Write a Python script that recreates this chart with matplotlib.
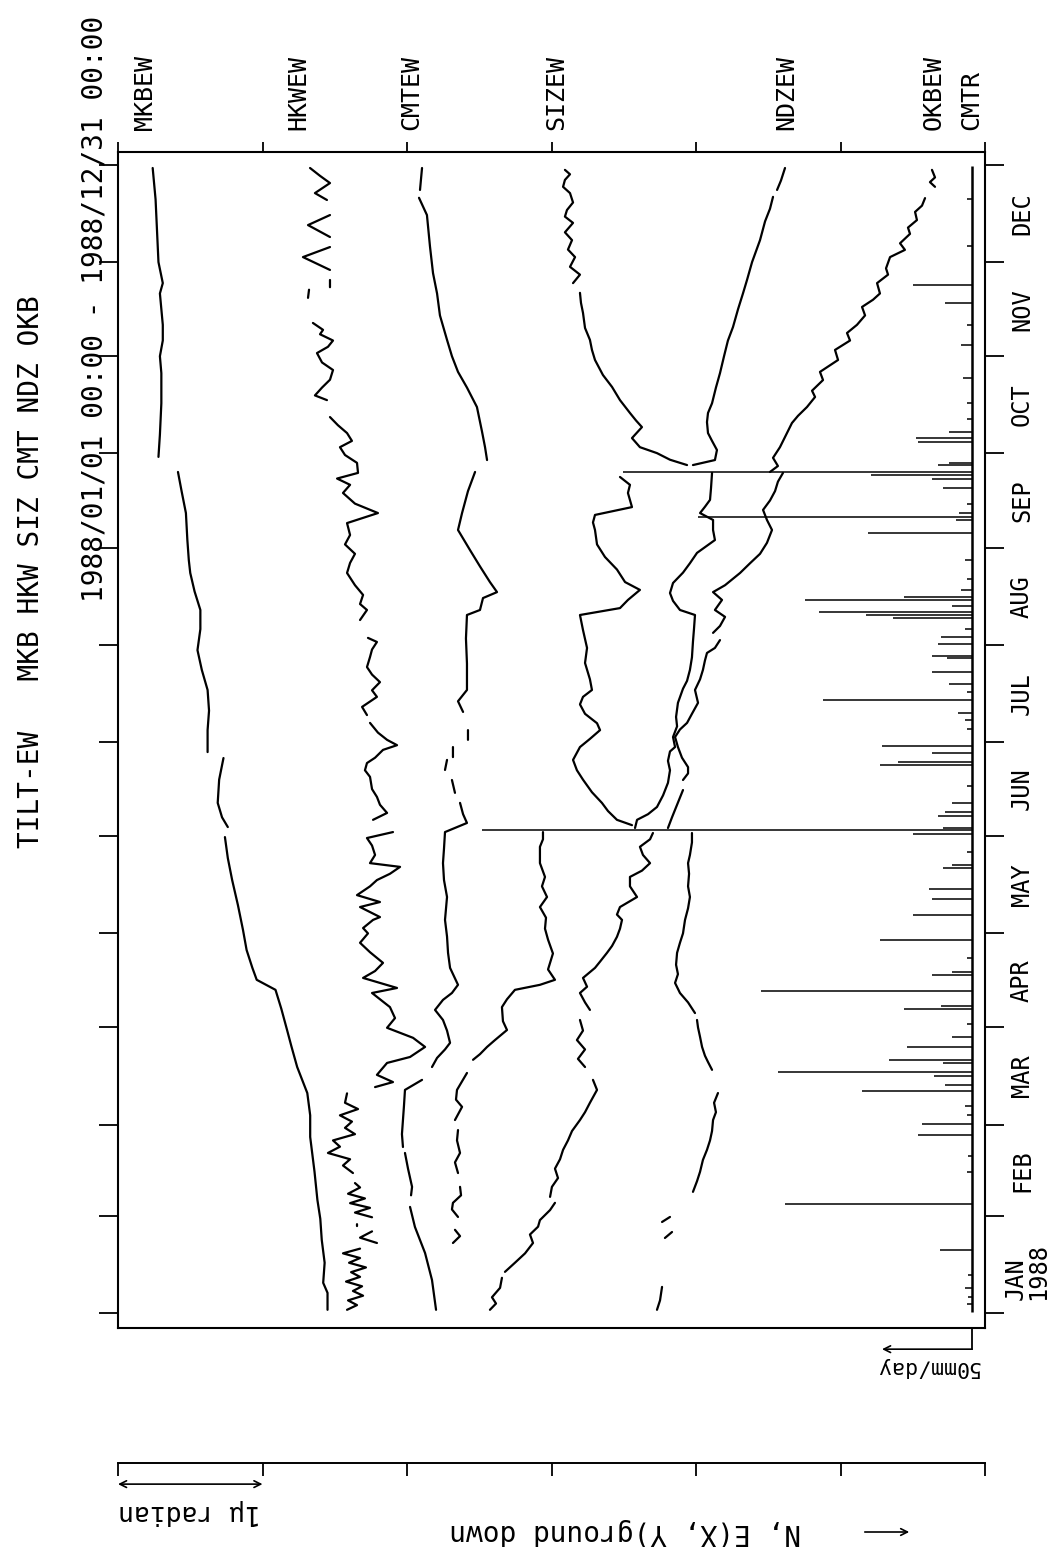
import numpy as np
import matplotlib
matplotlib.use("Agg")
import matplotlib.pyplot as plt
from matplotlib.transforms import blended_transform_factory
from matplotlib.patches import FancyArrowPatch

nan = np.nan
plt.rcParams['font.family'] = ['DejaVu Sans Mono']

# ---------------- data ----------------
title_1 = "TILT-EW   MKB HKW SIZ CMT NDZ OKB"
title_2 = "1988/01/01 00:00 - 1988/12/31 00:00"
channel_labels = ["MKBEW", "HKWEW", "CMTEW", "SIZEW", "NDZEW", "OKBEW", "CMTR"]
month_labels = ["JAN\n1988", "FEB", "MAR", "APR", "MAY", "JUN", "JUL", "AUG", "SEP", "OCT", "NOV", "DEC"]
month_start = [0, 31, 60, 91, 121, 152, 182, 213, 244, 274, 305, 335, 366]

# tilt traces: day of year, plotted position (micro-radian, stacked)
mkb_day = [1.0, 6.4, 9.6, 16, 23.3, 30, 36.0, 45, 56.1, 63, 70.1, 78.4, 85, 90.2, 97, 103.0, 106.2, 110, 115.7,
           122.1, 130, 138.0, 145, 151.7, nan, 154.9, 158, 162.6, 170, 176.9, nan, 178.8, 185.8, 192, 198.6, 205,
           211.3, 218, 224.1, 230, 235.9, 240, 246.4, 255, 262, 268.1, nan, 272.9, 280, 290, 299.6, 305, 310, 315,
           320, 325, 328.3, 335, 345, 355, 365.0]
mkb_val = [1.45, 1.45, 1.42, 1.43, 1.41, 1.40, 1.38, 1.36, 1.33, 1.33, 1.31, 1.24, 1.20, 1.17, 1.13, 1.09, 0.96, 0.93,
           0.89, 0.865, 0.83, 0.79, 0.76, 0.74, nan, 0.76, 0.72, 0.69, 0.70, 0.73, nan, 0.62, 0.62, 0.63, 0.62, 0.58,
           0.55, 0.57, 0.57, 0.53, 0.50, 0.49, 0.48, 0.47, 0.44, 0.415, nan, 0.28, 0.29, 0.30, 0.30, 0.29, 0.31, 0.31,
           0.30, 0.29, 0.31, 0.28, 0.27, 0.26, 0.24]

hkw_day = [1, 2.5, 4, 5.5, 7, 8.5, 10, 11.5, 13, 14.5, 16, 17.5, 19, 20.5, nan,
           22.3, 24, 26, nan, 27.7, 28.3, nan,
           30.5, 32, 33.5, 35, 36.5, 38, 40, 41.4, nan,
           44.6, 47, 49, 51, 53, 55, 57, 59, 61, 63, 65, 67, 70, nan,
           72, 73.6, 75.9, 79.7, 81.6, 84.8, 87.7, 90.9, 94, 97.5, 100, 102, 103.6, 106.8, 109, 111.6, 115, 118, 121,
           122.7, 125.3, 126.2, 129.4, 131, 133.2, 136, 138, 140, 142.2, 143.4, 146, 149, 151.4, 153.3, nan,
           157.2, 159.4, 162, 164.5, 167, 170.9, 173, 175.3, 177, 179.5, 181, 182.7, 185, 188.1, nan,
           190.6, 193.2, 196.4, 198.5, 201.1, 203.5, 205.9, 209.1, 211.5, 213.9, 215.2, nan,
           220.9, 224.1, 226, 228.9, 232, 235.9, 239.1, 242, 245, 248, 251.8, 255, 258, 261.4, 264, 266, 267.8, 271,
           273.5, 276, 278, 280.5, 283, 285.6, nan,
           291, 292.5, 295, 297.5, 300.6, 303, 306, 308, 310, 312, 313.4, 315.6, nan,
           323.6, 326.2, nan, 327, 329.3, nan, 332.5, 336.6, 339.8, nan, 343, 346.8, 350, nan,
           354.8, 357, 360.2, 362.5, 365]
hkw_val = [1.585, 1.654, 1.592, 1.696, 1.626, 1.689, 1.578, 1.675, 1.613, 1.716, 1.599, 1.675, 1.557, 1.675, nan,
           1.792, 1.675, 1.758, nan, 1.654, 1.654, nan,
           1.758, 1.640, 1.744, 1.606, 1.709, 1.592, 1.675, 1.640, nan,
           1.626, 1.557, 1.606, 1.453, 1.536, 1.488, 1.640, 1.571, 1.619, 1.536, 1.661, 1.571, 1.585, nan,
           1.779, 1.903, 1.792, 1.862, 2.021, 2.125, 2.042, 1.862, 1.917, 1.882, 1.813, 1.758, 1.931, 1.696, 1.779,
           1.834, 1.744, 1.675, 1.730, 1.696, 1.765, 1.813, 1.675, 1.813, 1.654, 1.744, 1.792, 1.882, 1.952, 1.744,
           1.779, 1.758, 1.723, 1.903, nan,
           1.765, 1.862, 1.813, 1.792, 1.758, 1.744, 1.709, 1.723, 1.779, 1.834, 1.931, 1.862, 1.799, 1.744, nan,
           1.723, 1.689, 1.792, 1.758, 1.813, 1.758, 1.723, 1.744, 1.758, 1.792, 1.730, nan,
           1.675, 1.723, 1.675, 1.696, 1.640, 1.585, 1.606, 1.640, 1.571, 1.606, 1.585, 1.799, 1.640, 1.557, 1.606,
           1.516, 1.661, 1.654, 1.571, 1.536, 1.619, 1.585, 1.522, 1.467, nan,
           1.446, 1.363, 1.412, 1.467, 1.488, 1.412, 1.377, 1.453, 1.488, 1.398, 1.419, 1.349, nan,
           1.315, 1.322, nan, 1.467, 1.467, nan, 1.467, 1.280, 1.467, nan, 1.467, 1.315, 1.467, nan,
           1.446, 1.363, 1.467, 1.398, 1.329]

cmt_day = [1, 10.5, 19.1, 27.4, 33.8, nan, 37.5, 40.2, 46, 51, nan, 52.9, 57, 61.5, 66, 71.1, 74.3, nan,
           78.4, 81.3, 84, 86.1, 90, 93.4, 96.6, 99.8, 102, 104.6, 110, 114.8, 120, 125.3, 132.6, 138, 143.4, 148,
           153.3, 156.2, 159, 162.6, nan, 165.8, 169.9, nan, 173.1, 176.3, nan, 177.2, 180.4, nan, 182.7, 185.8, nan,
           191.6, 195, 198.6, 207, 215, 222.5, 224.1, 227.9, 229.8, 233, 238, 243.2, 249.6, 255, 262, 268.1, nan,
           271.9, 276, 281, 288.8, 295, 300, 305, 310.2, 318, 325, 331.5, 340, 350, 355.5, nan, 358, 365]
cmt_val = [2.201, 2.173, 2.125, 2.055, 2.021, nan, 2.028, 2.035, 2.007, 1.986, nan, 1.972, 1.965, 1.972, 1.979,
           1.986, 2.104, nan, 2.173, 2.208, 2.263, 2.298, 2.277, 2.249, 2.194, 2.249, 2.311, 2.353, 2.298, 2.284,
           2.277, 2.263, 2.277, 2.256, 2.249, 2.256, 2.263, 2.415, 2.388, 2.367, nan, 2.332, 2.311, nan, 2.263,
           2.277, nan, 2.318, 2.318, nan, 2.422, 2.422, nan, 2.388, 2.353, 2.415, 2.415, 2.408, 2.415, 2.505, 2.526,
           2.623, 2.574, 2.505, 2.436, 2.353, 2.381, 2.422, 2.471, nan, 2.554, 2.540, 2.519, 2.484, 2.415, 2.353,
           2.311, 2.277, 2.228, 2.208, 2.180, 2.159, 2.138, 2.083, nan, 2.090, 2.104]

siz_day = [22.3, 24.5, 26.5, nan, 30.6, 33, 35.1, 37.5, 40.2, nan, 44.6, 48, 51, 55, 58.3, nan, 61.5, 65.7, 68,
           71.1, 76.5, nan, 80.7, 82.5, 84.8, 87, 90.2, 93, 97.5, 100, 103, 104.6, 106.2, 109.5, 114.6, 119, 122.5,
           126, 129.4, 132.6, 136, 139, 143.4, 148.6, 151, 153.3, nan, 155.5, 157.2, 160, 162.6, 166, 170, 173,
           176.3, 180.4, 183, 185.8, 188, 191, 194, 196.4, 198.6, 202, 207.2, 212, 217.7, 222.5, 224.7, 227.3,
           230.5, 233, 237, 241, 245, 249.6, 252, 254.4, 256.9, 261.4, 264, 266.5, nan, 270.3, 272, 274.1, 276,
           278.9, 282.4, 284.5, 286.9, 291, 295.2, 299, 303.8, 307, 310.2, 314, 318.8, 322, 325.2, nan, 328.3, 331,
           333.5, 336.6, 339, 342, 344.5, 347.5, 349.5, 351.6, 354, 357, 359, 361.2, 363, 364.4]
siz_val = [2.318, 2.367, 2.332, nan, 2.353, 2.311, 2.318, 2.374, 2.367, nan, 2.353, 2.332, 2.367, 2.346, 2.353, nan,
           2.332, 2.381, 2.339, 2.346, 2.415, nan, 2.457, 2.505, 2.554, 2.609, 2.692, 2.664, 2.657, 2.692, 2.747,
           2.920, 3.024, 2.976, 3.010, 2.976, 2.955, 2.962, 2.920, 2.969, 2.934, 2.955, 2.920, 2.920, 2.941, 2.941,
           nan, 3.557, 3.453, 3.391, 3.349, 3.280, 3.218, 3.176, 3.149, 3.197, 3.266, 3.336, 3.315, 3.232, 3.197,
           3.218, 3.280, 3.266, 3.232, 3.246, 3.218, 3.197, 3.474, 3.529, 3.612, 3.509, 3.453, 3.370, 3.315, 3.301,
           3.287, 3.301, 3.557, 3.529, 3.543, 3.474, nan, 3.938, 3.820, 3.730, 3.612, 3.557, 3.626, 3.585, 3.543,
           3.474, 3.419, 3.356, 3.301, 3.280, 3.266, 3.232, 3.218, 3.204, 3.197, nan, 3.149, 3.197, 3.128, 3.163,
           3.114, 3.142, 3.093, 3.149, 3.093, 3.107, 3.149, 3.128, 3.080, 3.093, 3.128, 3.093]

ndz_day = [1, 4, 8.3, nan, 23.9, 25.8, nan, 29, 30.6, nan, 38.6, 42, 45, 48.8, 52, 55, 58, 61.5, 64, 67, 70.1, nan,
           77.5, 80, 82, 84.8, 88, 91, 93.4, nan, 95.6, 99, 102, 105.2, 108, 111, 114.8, 118, 121, 125.3, 129, 132.6,
           136, 140, 143.4, 146, 150, 153, nan, 154.6, 157.2, 159, 161.3, 165, 169, 173, 176, 179, 180.4, 183.6, 187,
           190, 194.5, 199, 201.5, 205, 209, 214, 218, 222.5, 224.1, 227, 229.5, 232.7, 236, 239, 242.3, 246.4,
           249.6, 252.8, 255, 257, 259.2, 263, 267.8, nan, 270.3, 271.9, 275.1, 278, 280.5, 284, 286.9, 290, 295,
           299.6, 305, 310, 314.3, 320, 325, 329.3, 335, 342, 348, 352, 355.8, nan, 358, 361, 365]
ndz_val = [3.730, 3.751, 3.765, nan, 3.785, 3.834, nan, 3.765, 3.820, nan, 3.979, 4.007, 4.028, 4.048, 4.076, 4.097,
           4.111, 4.118, 4.138, 4.125, 4.152, nan, 4.111, 4.083, 4.062, 4.042, 4.028, 4.014, 4.007, nan, 3.993,
           3.945, 3.889, 3.855, 3.875, 3.862, 3.869, 3.889, 3.910, 3.924, 3.945, 3.958, 3.945, 3.952, 3.945, 3.958,
           3.972, 3.972, nan, 3.578, 3.592, 3.668, 3.730, 3.772, 3.806, 3.820, 3.806, 3.820, 3.855, 3.841, 3.869,
           3.862, 3.875, 3.910, 3.938, 3.958, 3.972, 3.979, 3.986, 3.993, 3.889, 3.841, 3.820, 3.841, 3.910, 3.958,
           4.007, 4.131, 4.118, 4.118, 4.028, 4.062, 4.097, 4.104, 4.111, nan, 3.979, 4.131, 4.145, 4.111, 4.083,
           4.076, 4.083, 4.111, 4.138, 4.166, 4.194, 4.221, 4.256, 4.291, 4.325, 4.353, 4.388, 4.443, 4.478, 4.512,
           4.533, nan, 4.561, 4.588, 4.616]

okb_day = [1, 3, 5, 8, 11.2, nan, 13.1, 16, 19, 22.3, 25, 27.5, 29.6, 32.8, 35.1, nan, 37, 40.2, 43, 46, 49, 52, 55,
           58, 61.5, 64, 67, 71.1, 74.3, nan, 78.4, 81, 84, 87, 90, 93.4, nan, 96.6, 99, 102, 104, 106.8, 110, 112,
           114.8, 117, 119.9, 122.5, 125.3, 127, 129.4, 132.6, 136, 139, 141, 143.4, 146, 148.6, 151, 153, nan,
           154.6, 158, 162, 166.7, nan, 169.9, 172, 174, 177, 180.4, 183.6, 186, 188.1, 191, 194.5, 198.6, 202, 205,
           208, 210.4, 212, 214.5, nan, 216.8, 219, 221.9, 224.1, 227.3, 229.8, 232, 235.9, 239, 242, 245.5, 249.6,
           252.8, 256, 259, 262, 265, 267.8, nan, 268.1, 270, 272.6, 276, 280.5, 283.7,
           286, 288.8, 292, 294, 297.4, 300, 303.8, 307, 310, 312.4, 315, 318, 320.7, 323, 325, 328.3, 331, 333,
           336.6, 338.9, 341, 344, 346, 348.4, 351, 353, 355.4, nan, 359, 360.5, 362, 364.4]
okb_val = [2.574, 2.616, 2.588, 2.644, 2.657, nan, 2.678, 2.747, 2.817, 2.872, 2.851, 2.907, 2.920, 2.990, 3.024,
           nan, 2.990, 3.003, 3.045, 3.024, 3.059, 3.080, 3.114, 3.142, 3.197, 3.232, 3.266, 3.315, 3.287, nan,
           3.232, 3.183, 3.232, 3.176, 3.218, 3.197, nan, 3.266, 3.232, 3.197, 3.246, 3.218, 3.301, 3.336, 3.384,
           3.419, 3.453, 3.474, 3.488, 3.453, 3.474, 3.592, 3.543, 3.543, 3.626, 3.682, 3.633, 3.612, 3.682, 3.702,
           nan, 3.806, 3.834, 3.869, 3.910, nan, 3.910, 3.945, 3.945, 3.903, 3.875, 3.855, 3.889, 3.938, 3.972,
           4.014, 3.993, 4.028, 4.048, 4.062, 4.076, 4.131, 4.166, nan, 4.118, 4.166, 4.201, 4.131, 4.180, 4.118,
           4.201, 4.305, 4.374, 4.443, 4.491, 4.526, 4.491, 4.464, 4.512, 4.547, 4.567, 4.602, nan, 4.512, 4.567,
           4.533, 4.581, 4.630, 4.664,
           4.706, 4.768, 4.824, 4.803, 4.879, 4.858, 4.983, 4.962, 5.066, 5.045, 5.114, 5.170, 5.149, 5.225, 5.273,
           5.253, 5.329, 5.315, 5.343, 5.446, 5.412, 5.481, 5.467, 5.529, 5.516, 5.564, 5.585, nan, 5.654, 5.619,
           5.654, 5.633]

# CMT rainfall: day of year, mm/day
rain_day = [3, 5, 8, 12, 20.1, 34.7, 45, 50, 56.7, 60.2, 63, 66, 70.8, 72.7, 75.5, 76.8, 79.7, 80.6, 84.8, 88, 92,
            96.9, 97.9, 102.6, 107.7, 108.7, 113, 118.9, 126.9, 132, 135.2, 141.9, 142.8, 147, 152.7, 154, 154.6,
            158.4, 159.7, 162.6, 168, 174.7, 175.6, 178.5, 180.7, 186, 189, 191.3, 195.4, 198, 200.5, 204.3, 208.8,
            209.4, 213.3, 215.5, 218, 221.6, 222.5, 223.5, 225.4, 227.3, 228.2, 230.5, 234, 240, 248.6, 252.8, 253.7,
            255, 258, 263, 265.9, 267.1, 268.1, 270.3, 271, 277.7, 278.9, 280.8, 285, 290, 298, 308.6, 315, 322,
            327.7, 340, 355]
rain_mm = [3, 2, 4, 2, 18, 104, 3, 2, 30, 28, 3, 4, 61, 15, 21, 108, 16, 46, 36, 11, 3, 38, 17, 117, 22, 11, 3, 51,
           33, 22, 24, 16, 11, 3, 33, 272, 16, 19, 15, 11, 3, 51, 41, 22, 50, 3, 4, 8, 83, 3, 13, 22, 14, 22, 19, 17,
           4, 44, 59, 85, 11, 93, 38, 6, 3, 4, 58, 9, 152, 7, 3, 16, 22, 56, 194, 19, 13, 30, 31, 13, 3, 3, 5, 6, 3,
           15, 33, 3, 3]

traces = [(mkb_day, mkb_val), (hkw_day, hkw_val), (cmt_day, cmt_val),
          (siz_day, siz_val), (ndz_day, ndz_val), (okb_day, okb_val)]
for d, v in traces:
    assert len(d) == len(v), (len(d), len(v))
assert len(rain_day) == len(rain_mm)

# ---------------- layout ----------------
W, H = 1052, 1547
fig = plt.figure(figsize=(W / 100, H / 100), dpi=100)
fig.patch.set_facecolor("white")


def fx(p):
    return p / W


def fy(p):
    return 1 - p / H


box = [fx(118), fy(1328), fx(985) - fx(118), fy(152) - fy(1328)]
ax = fig.add_axes(box)
ax.set_xlim(0, 6)
ax.set_ylim(-4.8, 370.1)
for d, v in traces:
    ax.plot(v, d, color="black", lw=1.6, solid_joinstyle="round", solid_capstyle="round")

for s in ax.spines.values():
    s.set_linewidth(1.5)
ax.xaxis.set_ticks_position("top")
ax.set_xticks(range(7))
ax.set_xticklabels([])
ax.tick_params(axis="x", direction="out", length=7, width=1.3)
ax.set_yticks(month_start)
ax.set_yticklabels([])
ax.tick_params(axis="y", left=True, right=True, direction="out", length=14, width=1.3)

# rainfall axis (bars grow leftwards from the baseline)
ax2 = fig.add_axes(box, frameon=False)
ax2.set_xlim(474.4, -7.2)
ax2.set_ylim(-4.8, 370.1)
ax2.set_xticks([])
ax2.set_yticks([])
ax2.hlines(rain_day, 0, rain_mm, color="black", lw=1.1)
ax2.vlines(0, 0.3, 365.5, color="black", lw=1.8)

trans2 = blended_transform_factory(ax2.transData, ax2.transAxes)
ax2.plot([0, 0], [0, -0.018], color="black", lw=1.3, transform=trans2, clip_on=False)
ax2.annotate("", xy=(50, -0.018), xytext=(0, -0.018), xycoords=trans2, textcoords=trans2,
             arrowprops=dict(arrowstyle="->", lw=1.2, color="black", mutation_scale=12,
                             shrinkA=0, shrinkB=0), annotation_clip=False)

# month labels on the right
tm = blended_transform_factory(ax.transAxes, ax.transData)
for i, m in enumerate(month_labels):
    if i == 0:
        ax.text(1.0485, 4, m, rotation=90, ha="center", va="bottom", multialignment="left",
                fontsize=17, transform=tm, linespacing=0.95)
    else:
        mid = (month_start[i] + month_start[i + 1]) / 2
        ax.text(1.0427, mid, m, rotation=90, ha="center", va="center", fontsize=17, transform=tm)

# titles and channel labels
fig.text(fx(31), fy(848), title_1, rotation=90, ha="center", va="bottom", fontsize=20)
fig.text(fx(95), fy(602), title_2, rotation=90, ha="center", va="bottom", fontsize=20)
label_x = [145, 298, 411, 556, 786, 934, 971]
for lx, lab in zip(label_x, channel_labels):
    fig.text(fx(lx), fy(130), lab, rotation=90, ha="center", va="bottom", fontsize=18)

# 50mm/day text
fig.text(fx(927), fy(1367), "50mm/day", rotation=180, ha="center", va="center", fontsize=15.5)

# bottom micro-radian scale
axs = fig.add_axes([fx(118), fy(1495), fx(985) - fx(118), fy(1463) - fy(1495)])
axs.set_xlim(0, 6)
axs.set_ylim(0, 1)
for s in ["left", "right", "bottom"]:
    axs.spines[s].set_visible(False)
axs.spines["top"].set_linewidth(1.4)
axs.xaxis.set_ticks_position("top")
axs.set_xticks(range(7))
axs.set_xticklabels([])
axs.set_yticks([])
axs.tick_params(axis="x", direction="in", length=9, width=1.3)
axs.patch.set_alpha(0)
axs.annotate("", xy=(0, 0.34), xytext=(1, 0.34),
             arrowprops=dict(arrowstyle="<->", lw=1.2, color="black", mutation_scale=12,
                             shrinkA=0, shrinkB=0))

fig.text(fx(190), fy(1512), "1\u03bc radian", rotation=180, ha="center", va="center", fontsize=19)
fig.text(fx(625), fy(1532), "N, E(X, Y)ground down", rotation=180, ha="center", va="center", fontsize=20)
fig.add_artist(FancyArrowPatch((fx(862), fy(1532)), (fx(912), fy(1532)), transform=fig.transFigure,
                               arrowstyle="->", mutation_scale=12, lw=1.2, color="black"))

fig.savefig("out.png", dpi=100, facecolor="white")
